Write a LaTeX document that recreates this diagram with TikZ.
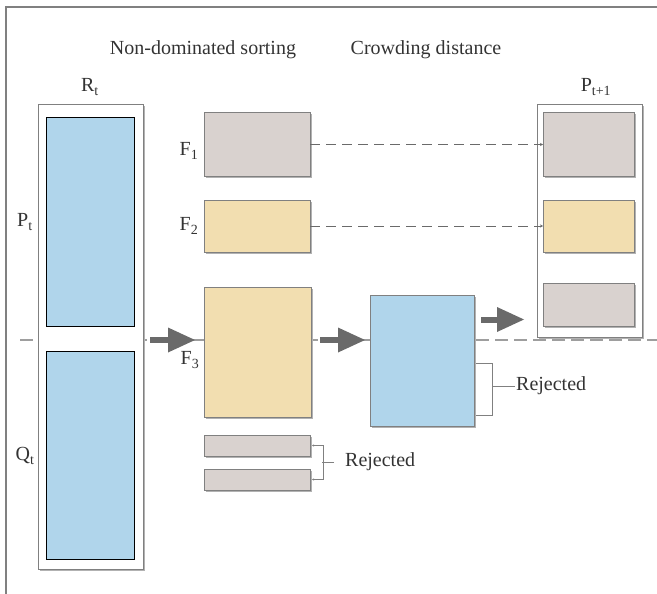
\documentclass[tikz,border=0pt]{standalone}
\usepackage{fontspec}
\setmainfont{Liberation Serif}
\usetikzlibrary{arrows.meta, shadows}
\definecolor{popblue}{HTML}{B0D5EB}
\definecolor{greybox}{HTML}{D9D2CF}
\definecolor{sandbox}{HTML}{F2DEB0}
\definecolor{framegray}{HTML}{808080}
\definecolor{arrowgray}{HTML}{6A6A6A}
\definecolor{splitgray}{HTML}{9E9E9E}

\begin{document}
\begin{tikzpicture}[x=1pt, y=-1pt, font=\fontsize{20}{24}\selectfont, text=black!80]
        \tikzset{
            sz/.style 2 args={minimum width=#1pt, minimum height=#2pt, inner sep=0pt, outer sep=0pt},
            sol/.style={draw=framegray, line width=1pt,
                drop shadow={shadow xshift=1.5pt, shadow yshift=-1.5pt, fill=black!30, opacity=1}},
            innerbox/.style={draw=black, line width=0.9pt, fill=popblue},
            fat/.style={line width=6pt, draw=arrowgray,
                -{Triangle[length=27pt, width=25pt, line width=0pt, fill=arrowgray]}},
            link/.style={draw=arrowgray, line width=0.8pt, dash pattern=on 10pt off 6pt,
                -{Stealth[length=3pt, width=3pt]}},
            brk/.style={draw=framegray, line width=0.8pt},
            lab/.style={anchor=west, inner sep=0pt}
        }
        \useasboundingbox (0,0) rectangle (657,594);

        % frame and split line
        \draw[framegray, line width=1.5pt] (6,594) -- (6,7) -- (657,7);
        \coordinate (split) at (0,340);
        \coordinate (up) at (0,319.5);
        \draw[splitgray, line width=1.2pt, dash pattern=on 13pt off 6pt] (20,340) -- (657,340);

        \node at (203,50) {Non-dominated sorting};
        \node at (426,50) {Crowding distance};

        % R_t = P_t + Q_t
        \node[sol, fill=white, sz={105}{464}] (Rt) at (90.5,337) {};
        \node[innerbox, sz={88}{209}] (Pt) at (90,221.5) {};
        \node[innerbox, sz={88}{208}] (Qt) at (90,455) {};
        \node (Rlab) at (90,87) {R\textsubscript{t}};
        \node (Plab) at (25,222) {P\textsubscript{t}};
        \node (Qlab) at (25,456) {Q\textsubscript{t}};

        % fronts
        \node[sol, fill=greybox, sz={106}{63}] (F1) at (257,144.5) {};
        \node[sol, fill=sandbox, sz={106}{52}] (F2) at (257,226) {};
        \node[sol, fill=sandbox, sz={107}{130}] (F3) at (257.5,352) {};
        \node[sol, fill=greybox, sz={106}{21}] (rej1) at (257,445.5) {};
        \node[sol, fill=greybox, sz={106}{21}] (rej2) at (257,479.5) {};
        \node (F1lab) at (189,151) {F\textsubscript{1}};
        \node (F2lab) at (189,226) {F\textsubscript{2}};
        \node (F3lab) at (190,360) {F\textsubscript{3}};

        % crowding distance
        \node[sol, fill=popblue, sz={104}{131}] (cd) at (422,360.5) {};

        % P_{t+1}
        \node[sol, fill=white, sz={105}{232}] (Pn) at (589.5,221) {};
        \node[sol, fill=greybox, sz={91}{63}] (P1) at (588.5,144.5) {};
        \node[sol, fill=sandbox, sz={91}{52}] (P2) at (588.5,226) {};
        \node[sol, fill=greybox, sz={91}{43}] (P3) at (588.5,304.5) {};
        \node (Pnlab) at (596,87) {P\textsubscript{t+1}};

        \draw[fat] ([xshift=7pt]Rt.east |- split) -- ([xshift=-9pt]F3.west |- split);
        \draw[fat] ([xshift=9pt]F3.east |- split) -- ([xshift=-5pt]cd.west |- split);
        \draw[fat] ([xshift=7pt]cd.east |- up) -- ([xshift=-13pt]Pn.west |- up);

        \draw[link] (F1.east) -- (P1.west);
        \draw[link] (F2.east) -- (P2.west);

        % rejected
        \node[lab] (rejA) at (345,462) {Rejected};
        \draw[brk, {Stealth[length=2pt, width=2pt]}-{Stealth[length=2pt, width=2pt]}]
            ([xshift=2pt]rej1.east) -- ++(11,0) |- ([xshift=2pt]rej2.east);
        \draw[brk] (rejA.west) ++(-11,0) -- ++(-12,0);

        \coordinate (cdr1) at (476,363);
        \coordinate (cdr2) at (476,415);
        \node[lab] (rejB) at (516,386) {Rejected};
        \draw[brk] (cdr1) -- ++(16,0) |- (cdr2);
        \draw[brk] (rejB.west) ++(-1,0) -- ++(-23,0);
    \end{tikzpicture}
\end{document}
